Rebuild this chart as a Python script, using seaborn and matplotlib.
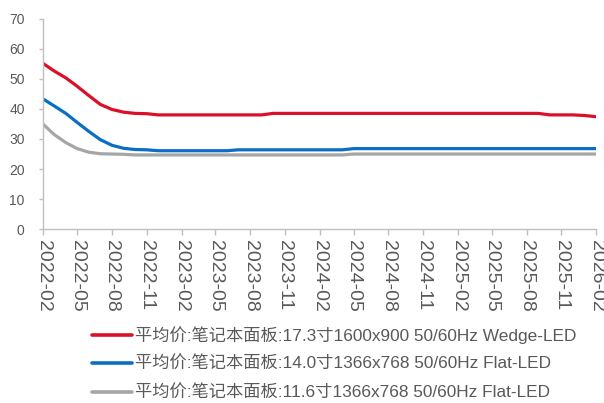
import pandas as pd
import matplotlib
matplotlib.use("Agg")
import matplotlib.pyplot as plt
import matplotlib.dates as mdates
import seaborn as sns

# monthly averages, 2022-02 .. 2026-02
dates = pd.date_range("2022-02-01", "2026-02-01", freq="MS")

red_vals = [55.0, 52.6, 50.3, 47.5, 44.4, 41.5, 39.8, 38.9, 38.5, 38.4] + [38.0] * 10 \
    + [38.5] * 24 + [38.0, 38.0, 38.0, 37.8, 37.4]
blue_vals = [43.2, 41.0, 38.5, 35.5, 32.5, 29.8, 27.9, 26.9, 26.5, 26.4] + [26.1] * 7 \
    + [26.4] * 10 + [26.8] * 22
gray_vals = [34.8, 31.5, 28.8, 26.8, 25.6, 25.1, 25.0, 24.9] + [24.7] * 19 + [25.0] * 22

names = [
    "平均价:笔记本面板:17.3寸1600x900 50/60Hz Wedge-LED",
    "平均价:笔记本面板:14.0寸1366x768 50/60Hz Flat-LED",
    "平均价:笔记本面板:11.6寸1366x768 50/60Hz Flat-LED",
]
colors = ["#DC0F28", "#0A6EC4", "#A6A6A6"]

df = pd.concat([
    pd.DataFrame({"date": dates, "value": v, "series": n})
    for n, v in zip(names, [red_vals, blue_vals, gray_vals])
])

sns.set_theme(style="white")
plt.rcParams["font.family"] = ["Liberation Sans", "Noto Sans CJK SC"]

fig = plt.figure(figsize=(6.04, 4.03), dpi=100)
ax = fig.add_axes([0.072, 0.431, 0.915, 0.523])

sns.lineplot(data=df, x="date", y="value", hue="series", palette=colors,
             linewidth=2.3, ax=ax, legend=False)

ax.set_xlim(dates[0], dates[-1])
ax.set_ylim(0, 70)
ax.set_yticks(range(0, 71, 10))
ax.set_xticks(dates[::3])
ax.xaxis.set_major_formatter(mdates.DateFormatter("%Y-%m"))
ax.set_xlabel("")
ax.set_ylabel("")

for s in ["top", "right"]:
    ax.spines[s].set_visible(False)
for s in ["left", "bottom"]:
    ax.spines[s].set_color("#BFBFBF")
    ax.spines[s].set_linewidth(1)

ax.tick_params(axis="y", length=3, width=1, color="#BFBFBF", pad=10.5,
               labelsize=10, labelcolor="#595959", left=True)
ax.tick_params(axis="x", length=4, width=1, color="#BFBFBF", pad=4,
               labelsize=14, labelcolor="#595959", bottom=True)
for lbl in ax.get_xticklabels():
    lbl.set_rotation(270)
    lbl.set_ha("center")
    lbl.set_va("top")

handles = [plt.Line2D([], [], color=c, linewidth=2.6) for c in colors]
fig.legend(handles, names, loc="upper left", bbox_to_anchor=(92 / 604, 1 - 326 / 403),
           frameon=False, fontsize=12.4, handlelength=2.3, handletextpad=0.2,
           labelspacing=0.72, borderpad=0, borderaxespad=0, labelcolor="#595959")

fig.savefig("out.png", dpi=100)
